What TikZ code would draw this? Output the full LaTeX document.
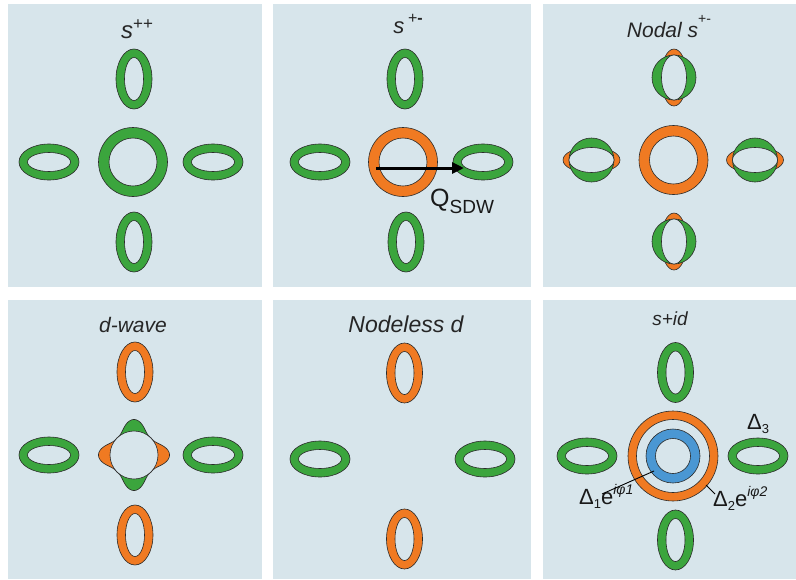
\documentclass[tikz,border=0pt]{standalone}
\usepackage{fontspec}
\setmainfont{Liberation Sans}
\usetikzlibrary{arrows.meta}
\definecolor{panelbg}{HTML}{D7E5EB}
\definecolor{grn}{HTML}{3BA53D}
\definecolor{orng}{HTML}{F07A22}
\definecolor{blu}{HTML}{4A97D3}
\definecolor{outl}{HTML}{2B2B2B}
\newcommand\fs[1]{\fontsize{#1}{#1}\selectfont}
\begin{document}
\begin{tikzpicture}[x=1pt,y=-1pt,
  panel/.style={fill=panelbg},
  ringline/.style={draw=outl,line width=0.6pt,even odd rule},
  ttl/.style={anchor=base,inner sep=0pt,text=black!85},
  lbl/.style={anchor=base west,inner sep=0pt,text=black!90}]
\newcommand\VRing[3]{\path[ringline,fill=#3] (#1,#2) ellipse [x radius=18pt,y radius=30pt] (#1,#2) ellipse [x radius=9.5pt,y radius=21.5pt];}
\newcommand\HRing[3]{\path[ringline,fill=#3] (#1,#2) ellipse [x radius=30pt,y radius=18pt] (#1,#2) ellipse [x radius=21.5pt,y radius=9.5pt];}
\newcommand\CRing[3]{\path[ringline,fill=#3] (#1,#2) circle [radius=34.5pt] (#1,#2) circle [radius=24pt];}
\newcommand\VNodal[2]{%
  \path[ringline,fill=orng] (#1,#2) ellipse [x radius=13pt,y radius=28.5pt];
  \path[ringline,fill=grn] (#1,#2) ellipse [x radius=22pt,y radius=22.5pt];
  \path[ringline,fill=panelbg] (#1,#2) ellipse [x radius=12.5pt,y radius=22.5pt];}
\newcommand\HNodal[2]{%
  \path[ringline,fill=orng] (#1,#2) ellipse [x radius=28.5pt,y radius=13pt];
  \path[ringline,fill=grn] (#1,#2) ellipse [x radius=22.5pt,y radius=22pt];
  \path[ringline,fill=panelbg] (#1,#2) ellipse [x radius=22.5pt,y radius=12.5pt];}
\newcommand\Lobe[5]{\path[ringline,fill=#5] plot[domain=#3:#4,samples=81,variable=\x]
  ({#1+(24+11.5*pow(abs(cos(2*\x)),3))*cos(\x)},{#2-(24+11.5*pow(abs(cos(2*\x)),3))*sin(\x)}) -- cycle;}
% background
\path[fill=white] (0,0) rectangle (796,579);
\useasboundingbox (0,0) rectangle (796,579);
\path[panel] (8,4) rectangle (262,287);
\path[panel] (273,4) rectangle (531,287);
\path[panel] (543,4) rectangle (796,287);
\path[panel] (8,300) rectangle (262,579);
\path[panel] (273,300) rectangle (531,579);
\path[panel] (543,300) rectangle (796,579);
% panel 1: s++
\CRing{133}{162}{grn}
\VRing{134}{79}{grn}
\VRing{134}{242}{grn}
\HRing{49}{162}{grn}
\HRing{213}{162}{grn}
\node[ttl] (t1) at (137,38) {\fs{24}\itshape s\raisebox{9pt}{\fs{17}\upshape ++}};
% panel 2: s+-
\CRing{403}{162}{orng}
\VRing{405}{79}{grn}
\VRing{406}{242}{grn}
\HRing{320}{162}{grn}
\HRing{483}{162}{grn}
\coordinate (qs) at (376,168);
\coordinate (qe) at (464,168);
\draw[line width=3pt,-{Triangle[length=12pt,width=11pt]}] (qs) -- (qe);
\node[lbl] (q) at (430,206) {\fs{25}Q\raisebox{-7pt}{\fs{19}SDW}};
\node[ttl] (t2) at (408,33) {\fs{22}\itshape s\,\raisebox{10pt}{\fs{16}\upshape +\textbf{-}}};
% panel 3: nodal s+-
\CRing{673.5}{160}{orng}
\VNodal{674}{77.5}
\VNodal{674}{241.5}
\HNodal{591.5}{160}
\HNodal{755}{160}
\node[ttl] (t3) at (669,37) {\fs{21}\itshape Nodal s\raisebox{14pt}{\fs{14}\upshape +-}};
% panel 4: d-wave
\VRing{135}{372}{orng}
\VRing{135}{535}{orng}
\HRing{49}{455}{grn}
\HRing{213}{455}{grn}
\Lobe{134}{455}{-45}{45}{orng}
\Lobe{134}{455}{135}{225}{orng}
\Lobe{134}{455}{45}{135}{grn}
\Lobe{134}{455}{225}{315}{grn}
\path[ringline,fill=panelbg] (134,455) circle [radius=24pt];
\node[ttl] (t4) at (133,332) {\fs{21}\itshape d-wave};
% panel 5: nodeless d
\VRing{404.5}{373}{orng}
\VRing{404.5}{539}{orng}
\HRing{320}{459}{grn}
\HRing{485}{459}{grn}
\node[ttl] (t5) at (406,332) {\fs{23}\itshape Nodeless d};
% panel 6: s+id
\path[ringline,fill=orng] (673,456) circle [radius=45pt] (673,456) circle [radius=36.5pt];
\path[ringline,fill=blu] (673,456) circle [radius=27pt] (673,456) circle [radius=17.5pt];
\VRing{675.5}{372.5}{grn}
\VRing{675.5}{540}{grn}
\HRing{587}{456}{grn}
\HRing{758}{456}{grn}
\node[ttl] (t6) at (670,325) {\fs{19}\itshape s+id};
\node[lbl] (d3) at (747,429) {\fs{22}Δ\raisebox{-4pt}{\fs{13}3}};
\node[lbl] (d1) at (579,504) {\fs{22}Δ\raisebox{-4pt}{\fs{13}1}e\raisebox{10pt}{\fs{14}\itshape iφ1}};
\node[lbl] (d2) at (713,506) {\fs{22}Δ\raisebox{-4pt}{\fs{13}2}e\raisebox{10pt}{\fs{14}\itshape iφ2}};
\coordinate (b1) at (654,471);
\coordinate (b1e) at (602,494);
\coordinate (o2) at (706,485);
\coordinate (o2e) at (715,494);
\draw[line width=0.9pt] (b1) -- (b1e);
\draw[line width=0.9pt] (o2) -- (o2e);
\end{tikzpicture}
\end{document}
